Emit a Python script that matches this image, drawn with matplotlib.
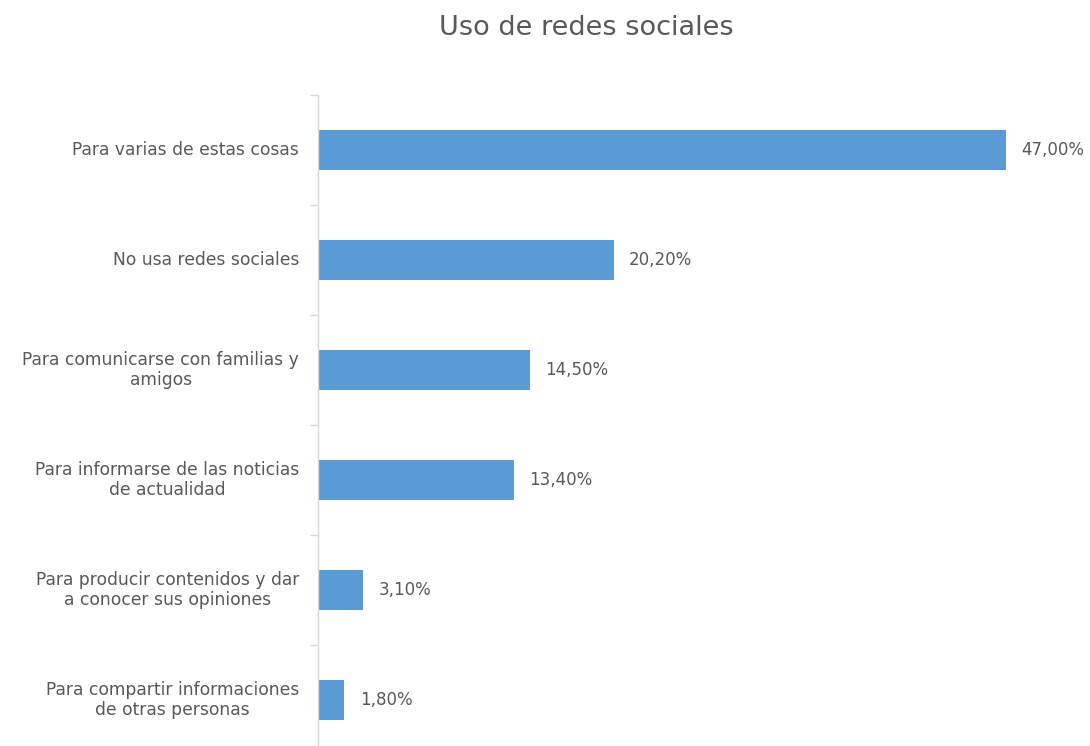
import matplotlib
matplotlib.use("Agg")
import matplotlib.pyplot as plt

categorias = [
    "Para varias de estas cosas",
    "No usa redes sociales",
    "Para comunicarse con familias y\namigos",
    "Para informarse de las noticias\nde actualidad",
    "Para producir contenidos y dar\na conocer sus opiniones",
    "Para compartir informaciones\nde otras personas",
]
porcentajes = [47.0, 20.2, 14.5, 13.4, 3.1, 1.8]
etiquetas = ["47,00%", "20,20%", "14,50%", "13,40%", "3,10%", "1,80%"]

azul = "#5B9BD5"
gris_texto = "#595959"
gris_eje = "#D9D9D9"

fig = plt.figure(figsize=(10.9, 7.46), dpi=100)
ax = fig.add_axes([318 / 1090, -9 / 746, 732 / 1090, 660 / 746])

pos = list(range(len(categorias)))
ax.barh(pos, porcentajes, height=0.36, color=azul)
ax.set_xlim(0, 50)
ax.set_ylim(len(categorias) - 0.5, -0.5)

# etiquetas de valor a la derecha de cada barra
for y, v, t in zip(pos, porcentajes, etiquetas):
    ax.annotate(t, (v, y), xytext=(11, 0), textcoords="offset points",
                va="center", ha="left", fontsize=12, color=gris_texto)

ax.set_yticks([p - 0.5 for p in pos] + [len(pos) - 0.5])
ax.set_yticklabels([])
ax.tick_params(axis="y", length=6, color=gris_eje, width=1)
for y, c in zip(pos, categorias):
    ax.text(-19 / 732 * 50, y, c, ha="right", va="center", multialignment="center",
            fontsize=12.3, color=gris_texto, linespacing=1.12)

ax.set_xticks([])
for s in ["top", "right", "bottom"]:
    ax.spines[s].set_visible(False)
ax.spines["left"].set_color(gris_eje)
ax.spines["left"].set_linewidth(1)

fig.text(586 / 1090, 1 - 28 / 746, "Uso de redes sociales", ha="center", va="center",
         fontsize=19.5, color=gris_texto)

fig.savefig("out.png", dpi=100)
